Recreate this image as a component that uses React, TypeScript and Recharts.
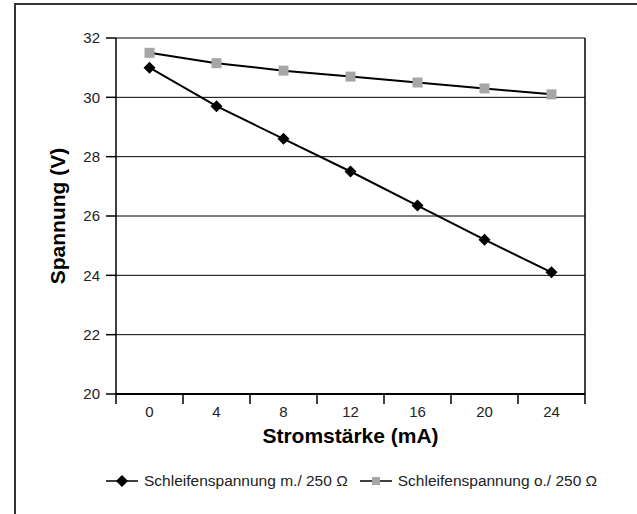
import React from "react";
import {
  LineChart, Line, XAxis, YAxis, CartesianGrid, ReferenceLine, Label,
} from "recharts";

const current = [0, 4, 8, 12, 16, 20, 24];
const withResistor = [31.0, 29.7, 28.6, 27.5, 26.35, 25.2, 24.1];
const withoutResistor = [31.5, 31.15, 30.9, 30.7, 30.5, 30.3, 30.1];
const yTicks = [20, 22, 24, 26, 28, 30, 32];
const xBoundaries = [-2, 2, 6, 10, 14, 18, 22, 26];

const seriesNames = ["Schleifenspannung m./ 250 Ω", "Schleifenspannung o./ 250 Ω"];

const data = current.map((x, i) => ({ x, m: withResistor[i], o: withoutResistor[i] }));

const FONT = "Liberation Sans, Arial, sans-serif";
const PLOT_W = 469;
const HALF_STEP = PLOT_W / 7 / 2;

const Diamond = (props: any) => {
  const { cx, cy } = props;
  if (cx == null || cy == null) return null;
  const r = 6;
  return <path d={`M${cx},${cy - r}L${cx + r},${cy}L${cx},${cy + r}L${cx - r},${cy}Z`} fill="#000" />;
};

const Square = (props: any) => {
  const { cx, cy } = props;
  if (cx == null || cy == null) return null;
  const s = 5;
  return <rect x={cx - s} y={cy - s} width={s * 2} height={s * 2} fill="#a6a6a6" />;
};

const XTick = ({ x, y, payload }: any) => {
  if (payload.value >= 26) return null;
  return (
    <text x={x + HALF_STEP} y={y} dy={11} textAnchor="middle" fontSize={15} fill="#222" fontFamily={FONT}>
      {payload.value + 2}
    </text>
  );
};

export default function App() {
  return (
    <div style={{ position: "absolute", left: 0, top: 0, width: 637, height: 514, background: "#fff", fontFamily: FONT }}>
      <div style={{ position: "absolute", left: 14, top: 3, right: 0, bottom: 0, borderTop: "2px solid #333", borderLeft: "2px solid #333" }} />
      <LineChart
        width={637}
        height={514}
        data={data}
        margin={{ top: 38, right: 52, left: 50, bottom: 70 }}
        style={{ position: "absolute", left: 0, top: 0 }}
      >
        <CartesianGrid vertical={false} stroke="#000" strokeWidth={1} horizontalValues={yTicks} />
        <XAxis
          dataKey="x"
          type="number"
          domain={[-2, 26]}
          ticks={xBoundaries}
          interval={0}
          tick={<XTick />}
          tickSize={10}
          tickLine={{ stroke: "#000", strokeWidth: 1.5 }}
          axisLine={{ stroke: "#000", strokeWidth: 2 }}
          height={50}
        >
          <Label value="Stromstärke (mA)" position="insideBottom" offset={1} fontSize={21} fontWeight="bold" fill="#000" fontFamily={FONT} />
        </XAxis>
        <YAxis
          domain={[20, 32]}
          ticks={yTicks}
          interval={0}
          tick={{ fontSize: 15, fill: "#222", fontFamily: FONT }}
          tickSize={10}
          tickMargin={6}
          tickLine={{ stroke: "#000", strokeWidth: 1.5 }}
          axisLine={{ stroke: "#000", strokeWidth: 1.5 }}
          width={66}
        >
          <Label value="Spannung (V)" angle={-90} position="insideLeft" offset={8} fontSize={21} fontWeight="bold" fill="#000" fontFamily={FONT} style={{ textAnchor: "middle" }} />
        </YAxis>
        <ReferenceLine x={26} stroke="#000" strokeWidth={1.5} />
        <Line dataKey="m" stroke="#000" strokeWidth={2} dot={<Diamond />} isAnimationActive={false} />
        <Line dataKey="o" stroke="#000" strokeWidth={2} dot={<Square />} isAnimationActive={false} />
      </LineChart>
      <div style={{ position: "absolute", top: 472, left: 106, display: "flex", alignItems: "center", fontSize: 15.5, color: "#222", whiteSpace: "nowrap" }}>
        <svg width={32} height={18}>
          <line x1={0} y1={9} x2={32} y2={9} stroke="#000" strokeWidth={1.5} />
          <path d="M16,3L22,9L16,15L10,9Z" fill="#000" />
        </svg>
        <span style={{ marginLeft: 6, marginRight: 12 }}>{seriesNames[0]}</span>
        <svg width={32} height={18}>
          <line x1={0} y1={9} x2={32} y2={9} stroke="#000" strokeWidth={1.5} />
          <rect x={12} y={5} width={8} height={8} fill="#a6a6a6" />
        </svg>
        <span style={{ marginLeft: 6 }}>{seriesNames[1]}</span>
      </div>
    </div>
  );
}
